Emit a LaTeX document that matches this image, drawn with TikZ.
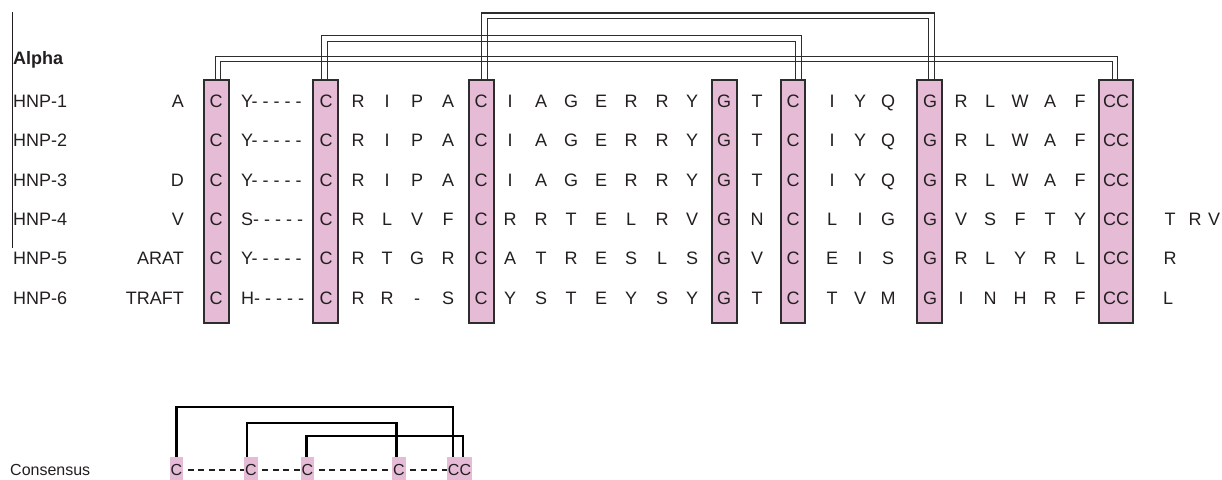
\documentclass[tikz,border=0pt]{standalone}
\usepackage{fontspec}
\setmainfont{Liberation Sans}
\definecolor{mauve}{RGB}{229,187,213}
\definecolor{ink}{RGB}{35,31,32}
\definecolor{boxline}{RGB}{45,45,45}

% double disulfide bond between two highlighted columns:
% #1 left box, #2 x-offset, #3 right box, #4 x-offset, #5 height of the bridge
\newcommand\ssbond[5]{%
  \draw[bondline] ([xshift=#2pt-2.75pt]#1.north) -- ([xshift=#2pt-2.75pt]#1.north |- 0,#5-2.75)
        -| ([xshift=#4pt+2.75pt]#3.north);
  \draw[bondline] ([xshift=#2pt+2.75pt]#1.north) -- ([xshift=#2pt+2.75pt]#1.north |- 0,#5+2.75)
        -| ([xshift=#4pt-2.75pt]#3.north);
}

\begin{document}
\begin{tikzpicture}[x=1pt,y=-1pt,
  res/.style={anchor=base, inner sep=0pt, font=\fontsize{18}{20}\selectfont, text=ink},
  hl/.style={draw=boxline, line width=1.4pt, fill=mauve, inner sep=0pt, minimum height=243pt},
  bondline/.style={draw=boxline, line width=1.4pt},
  cons/.style={fill=mauve, inner xsep=0.8pt, inner ysep=0pt, minimum height=26pt,
               font=\fontsize{16}{18}\selectfont, text=ink},
  cdash/.style={draw=ink, line width=1.5pt, dash pattern=on 6pt off 4.5pt, dash phase=6pt},
  cbond/.style={draw=black, line width=2.5pt}]
\useasboundingbox (0,0) rectangle (1222,479);

% margin rule
\draw[ink, line width=1pt] (12,12) -- (12,248);

% conserved columns
\node[hl, minimum width=25pt] (b1) at (216.5,201.5) {};
\node[hl, minimum width=25pt] (b2) at (325.5,201.5) {};
\node[hl, minimum width=25pt] (b3) at (481.5,201.5) {};
\node[hl, minimum width=25pt] (b4) at (724.5,201.5) {};
\node[hl, minimum width=24pt] (b5) at (793,201.5) {};
\node[hl, minimum width=25pt] (b6) at (929.5,201.5) {};
\node[hl, minimum width=34pt] (b7) at (1116,201.5) {};

% disulfide connectivity of the alignment
\ssbond{b1}{1.5}{b7}{-1}{59}
\ssbond{b2}{-1}{b5}{5.5}{38.5}
\ssbond{b3}{3}{b6}{2}{15.8}

\node[res, anchor=base west, font=\fontsize{18}{20}\selectfont\bfseries] (alpha) at (13,64.5) {Alpha};

% aligned sequences
\foreach \r/\lab/\gap/\body in {
  1/HNP-1/Y/{C,C,R,I,P,A,C,I,A,G,E,R,R,Y,G,T,C,I,Y,Q,G,R,L,W,A,F,CC},
  2/HNP-2/Y/{C,C,R,I,P,A,C,I,A,G,E,R,R,Y,G,T,C,I,Y,Q,G,R,L,W,A,F,CC},
  3/HNP-3/Y/{C,C,R,I,P,A,C,I,A,G,E,R,R,Y,G,T,C,I,Y,Q,G,R,L,W,A,F,CC},
  4/HNP-4/S/{C,C,R,L,V,F,C,R,R,T,E,L,R,V,G,N,C,L,I,G,G,V,S,F,T,Y,CC},
  5/HNP-5/Y/{C,C,R,T,G,R,C,A,T,R,E,S,L,S,G,V,C,E,I,S,G,R,L,Y,R,L,CC},
  6/HNP-6/H/{C,C,R,R,-,S,C,Y,S,T,E,Y,S,Y,G,T,C,T,V,M,G,I,N,H,R,F,CC}}
{
  \pgfmathsetmacro\base{107.5+39.3*(\r-1)}
  \node[res, anchor=base west] (lab\r) at (13,\base) {\lab};
  \node[res, anchor=base west] (gap\r) at (241,\base) {\gap- - - - -};
  \foreach \t [count=\j] in \body {
    \pgfmathsetmacro\cx{{216,326,358,387,417,448,481,510,541,571,601,631,662,692,724,757,793,832,860,888,930,961,990,1020,1050,1080,1116}[\j-1]}
    \node[res] (r\r-\j) at (\cx,\base) {\t};
  }
}

% N-terminal extensions
\node[res, anchor=base east] (pre1) at (184,107.5) {A};
\node[res, anchor=base east] (pre3) at (184,186.1) {D};
\node[res, anchor=base east] (pre4) at (184,225.4) {V};
\node[res, anchor=base east] (pre5) at (184,264.7) {ARAT};
\node[res, anchor=base east] (pre6) at (184,304) {TRAFT};

% C-terminal extensions
\node[res] (suf4a) at (1170,225.4) {T};
\node[res] (suf4b) at (1195,225.4) {R};
\node[res] (suf4c) at (1214,225.4) {V};
\node[res] (suf5) at (1170,264.7) {R};
\node[res] (suf6) at (1168,304) {L};

% consensus pattern
\node[anchor=west, inner sep=0pt, font=\fontsize{16}{18}\selectfont, text=ink] (cons) at (10,470) {Consensus};
\node[cons] (k1) at (176.5,470) {C};
\node[cons] (k2) at (251,470) {C};
\node[cons] (k3) at (307.5,470) {C};
\node[cons] (k4) at (399,470) {C};
\node[cons] (k5) at (459.5,470) {CC};
\draw[cdash] (k1) -- (k2);
\draw[cdash] (k2) -- (k3);
\draw[cdash] (k3) -- (k4);
\draw[cdash] (k4) -- (k5);

\draw[cbond] (k1.north) -- (k1.north |- 0,407) -| ([xshift=-6.5pt]k5.north);
\draw[cbond] ([xshift=-4pt]k2.north) -- ([xshift=-4pt]k2.north |- 0,423) -| ([xshift=-2.5pt]k4.north);
\draw[cbond] ([xshift=-1pt]k3.north) -- ([xshift=-1pt]k3.north |- 0,436) -| ([xshift=3.5pt]k5.north);
\end{tikzpicture}
\end{document}
